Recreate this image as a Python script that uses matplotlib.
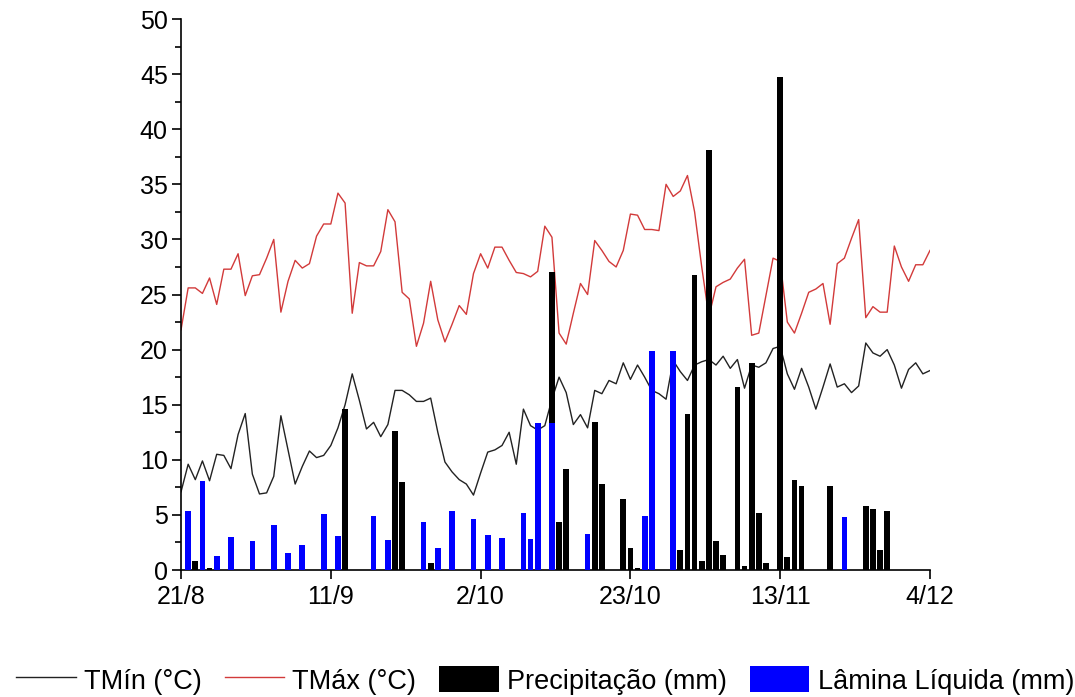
import matplotlib

matplotlib.use("Agg")
import matplotlib.pyplot as plt
from matplotlib.lines import Line2D
from matplotlib.patches import Patch
from matplotlib.ticker import MultipleLocator

plt.rcParams["font.family"] = ["Liberation Sans", "DejaVu Sans"]

# Daily series, day 0 = 21/8
DAYS = list(range(106))

TMIN = [
    7.1, 9.6, 8.2, 9.9, 8.1, 10.5, 10.4, 9.2, 12.3, 14.2,
    8.7, 6.9, 7.0, 8.5, 14.0, 10.9, 7.8, 9.4, 10.8, 10.2,
    10.4, 11.3, 12.9, 15.0, 17.8, 15.4, 12.8, 13.4, 12.1, 13.2,
    16.3, 16.3, 15.9, 15.3, 15.3, 15.6, 12.5, 9.8, 8.9, 8.2,
    7.8, 6.8, 8.8, 10.7, 10.9, 11.3, 12.5, 9.6, 14.6, 13.1,
    12.7, 13.1, 15.5, 17.5, 16.1, 13.2, 14.1, 12.9, 16.3, 16.0,
    17.2, 16.9, 18.8, 17.3, 18.6, 17.5, 16.3, 16.0, 15.5, 19.0,
    18.0, 17.2, 18.6, 18.9, 19.1, 18.6, 19.4, 18.3, 19.1, 16.5,
    18.6, 18.4, 18.8, 20.1, 20.3, 17.8, 16.4, 18.3, 16.6, 14.6,
    16.6, 18.7, 16.6, 16.9, 16.1, 16.7, 20.6, 19.7, 19.4, 20.0,
    18.6, 16.5, 18.2, 18.8, 17.8, 18.1,
]

TMAX = [
    21.8, 25.6, 25.6, 25.1, 26.5, 24.1, 27.3, 27.3, 28.7, 24.9,
    26.7, 26.8, 28.3, 30.0, 23.4, 26.2, 28.1, 27.4, 27.8, 30.3,
    31.4, 31.4, 34.2, 33.3, 23.3, 27.9, 27.6, 27.6, 28.9, 32.7,
    31.6, 25.2, 24.6, 20.3, 22.4, 26.2, 22.7, 20.7, 22.3, 24.0,
    23.2, 26.9, 28.7, 27.4, 29.3, 29.3, 28.1, 27.0, 26.9, 26.6,
    27.1, 31.2, 30.2, 21.5, 20.5, 23.3, 26.0, 25.0, 29.9, 29.0,
    28.0, 27.5, 29.0, 32.3, 32.2, 30.9, 30.9, 30.8, 35.0, 33.9,
    34.4, 35.8, 32.5, 27.5, 23.0, 25.7, 26.1, 26.4, 27.4, 28.2,
    21.3, 21.5, 24.9, 28.3, 28.0, 22.5, 21.5, 23.3, 25.2, 25.5,
    26.0, 22.3, 27.8, 28.3, 30.1, 31.8, 22.9, 23.9, 23.4, 23.4,
    29.4, 27.5, 26.2, 27.7, 27.7, 29.0,
]

# Rain days and amounts (mm)
RAIN_DAYS = [2, 4, 23, 30, 31, 35, 52, 53, 54, 58, 59, 62, 63, 64, 70, 71, 72,
             73, 74, 75, 76, 78, 79, 80, 81, 82, 84, 85, 86, 87, 91, 96, 97,
             98, 99]
RAIN = [0.8, 0.2, 14.6, 12.6, 8.0, 0.6, 27.0, 4.4, 9.2, 13.4, 7.8, 6.4, 2.0,
        0.2, 1.8, 14.2, 26.8, 0.8, 38.1, 2.6, 1.4, 16.6, 0.4, 18.8, 5.2, 0.6,
        44.7, 1.2, 8.2, 7.6, 7.6, 5.8, 5.5, 1.8, 5.4]

# Irrigation days and net depth (mm)
IRR_DAYS = [1, 3, 5, 7, 10, 13, 15, 17, 20, 22, 27, 29, 34, 36, 38, 41, 43,
            45, 48, 49, 50, 52, 57, 65, 66, 69, 93]
IRR = [5.4, 8.1, 1.3, 3.0, 2.6, 4.1, 1.5, 2.3, 5.1, 3.1, 4.9, 2.7, 4.4, 2.0,
       5.35, 4.6, 3.2, 2.9, 5.2, 2.8, 13.3, 13.3, 3.3, 4.9, 19.9, 19.9, 4.8]

TICK_DAYS = [0, 21, 42, 63, 84, 105]
TICK_LABELS = ["21/8", "11/9", "2/10", "23/10", "13/11", "4/12"]

RED = "#d23a3a"
BLUE = "#0000ff"

fig = plt.figure(figsize=(10.75, 6.97), dpi=100)
ax = fig.add_axes([0.1684, 0.1822, 0.6967, 0.7905])

ax.plot(DAYS, TMIN, color="#222222", lw=1.0, zorder=1)
ax.plot(DAYS, TMAX, color=RED, lw=1.0, zorder=1)
ax.bar(RAIN_DAYS, RAIN, width=0.8, color="black", zorder=2)
ax.bar(IRR_DAYS, IRR, width=0.8, color=BLUE, zorder=3)

ax.set_xlim(0, 105)
ax.set_ylim(0, 50)
ax.set_xticks(TICK_DAYS)
ax.set_xticklabels(TICK_LABELS)
ax.yaxis.set_major_locator(MultipleLocator(5))
ax.yaxis.set_minor_locator(MultipleLocator(2.5))

for side in ("top", "right"):
    ax.spines[side].set_visible(False)
for side in ("left", "bottom"):
    ax.spines[side].set_linewidth(1.2)

ax.tick_params(axis="both", which="major", direction="out", length=6.5,
               width=1.2, labelsize=18, pad=3)
ax.tick_params(axis="y", which="minor", direction="out", length=4,
               width=1.2)
ax.tick_params(axis="x", pad=4)

handles = [
    Line2D([], [], color="#222222", lw=1.0),
    Line2D([], [], color=RED, lw=1.0),
    Patch(facecolor="black"),
    Patch(facecolor=BLUE),
]
labels = ["TMín (°C)", "TMáx (°C)", "Precipitação (mm)", "Lâmina Líquida (mm)"]
fig.legend(handles, labels, loc="lower center", bbox_to_anchor=(0.507, -0.012),
           ncol=4, frameon=False, fontsize=19.5, handlelength=2.2,
           handleheight=1.1, handletextpad=0.3, columnspacing=0.85,
           borderaxespad=0.0)

fig.savefig("out.png", dpi=100)
